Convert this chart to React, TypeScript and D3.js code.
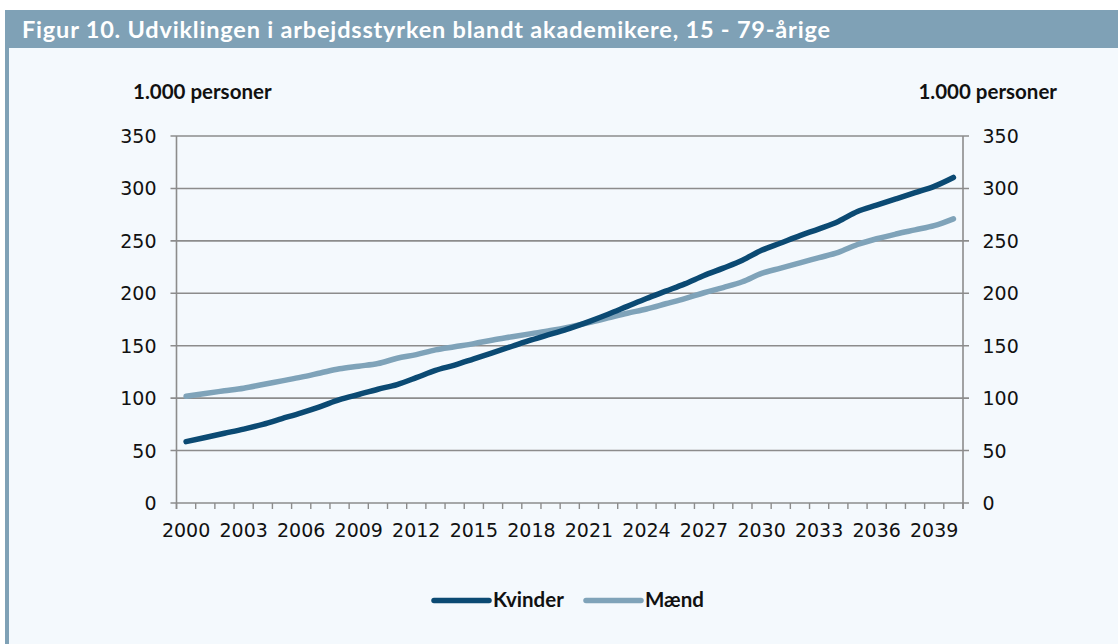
import React from "react";
import * as d3 from "d3";

const years: number[] = d3.range(2000, 2041);
const kvinder: number[] = [
  58.5, 62.5, 66.5, 70.5, 75, 80.5, 86, 92, 98.5, 103.5,
  108.5, 113, 119.5, 126.5, 131.5, 137.5, 143.5, 149.5, 155.5, 161,
  166.5, 173, 180, 187.5, 195, 202, 209, 217, 224, 231.5,
  241, 248, 255, 261.5, 268.5, 278, 284, 290, 296, 302, 310.5,
];
const maend: number[] = [
  101.8, 104.5, 107, 109.5, 113, 116.5, 120, 124, 128, 130.5,
  133, 138, 141.5, 146, 149, 152, 155.5, 158.5, 161.5, 164.5,
  168, 172, 176.5, 181, 185, 190, 195, 200.5, 205.5, 211,
  219, 224, 229, 234, 239, 246.5, 252, 256.5, 260.5, 264.5, 271,
];
const yTicks: number[] = [0, 50, 100, 150, 200, 250, 300, 350];
const seriesNames: string[] = ["Kvinder", "Mænd"];
const seriesColors: string[] = ["#0b4a73", "#7fa3b9"];
const title = "Figur 10. Udviklingen i arbejdsstyrken blandt akademikere, 15 - 79-årige";
const unitLabel = "1.000 personer";

const W = 1118;
const H = 644;
const left = 176.5;
const right = 963;
const top = 136;
const bottom = 503;
const boldFont = "Lato, 'Open Sans', sans-serif";
const tickFont = "'DejaVu Sans', Verdana, sans-serif";

export default function App() {
  const x = d3.scaleBand<number>().domain(years).range([left, right]).padding(0);
  const y = d3.scaleLinear().domain([0, 350]).range([bottom, top]);
  const line = d3
    .line<number>()
    .x((_, i) => (x(years[i]) as number) + x.bandwidth() / 2)
    .y((v) => y(v))
    .curve(d3.curveMonotoneX);
  const series = [kvinder, maend];
  const tickXs = years.map((yr) => x(yr) as number).concat([right]);

  return (
    <svg
      width={W}
      height={H}
      style={{ position: "absolute", left: 0, top: 0, display: "block" }}
      fontFamily={boldFont}
    >
      <rect x={0} y={0} width={W} height={H} fill="#ffffff" />
      <rect x={5} y={10} width={W - 5} height={H - 10} fill="#f4f9fd" />
      <rect x={5} y={10} width={4} height={H - 10} fill="#7fa1b6" />
      <rect x={5} y={10} width={W - 5} height={38} fill="#7fa1b6" />
      <text
        x={22}
        y={38}
        fill="#ffffff"
        fontSize={23.5}
        fontWeight={700}
        textLength={808}
        lengthAdjust="spacing"
      >
        {title}
      </text>

      <text x={133} y={99} fontSize={20.5} fontWeight={700} fill="#111">
        {unitLabel}
      </text>
      <text x={1057} y={99} fontSize={20.5} fontWeight={700} fill="#111" textAnchor="end">
        {unitLabel}
      </text>

      {yTicks.map((t) => (
        <g key={t}>
          <line
            x1={left - 6}
            x2={right + 6}
            y1={y(t)}
            y2={y(t)}
            stroke="#8c8c8c"
            strokeWidth={1.6}
          />
          <text
            x={156.5}
            y={y(t)}
            dy="0.37em"
            textAnchor="end"
            fontSize={19}
            fill="#111"
            fontFamily={tickFont}
          >
            {t}
          </text>
          <text
            x={982.5}
            y={y(t)}
            dy="0.37em"
            textAnchor="start"
            fontSize={19}
            fill="#111"
            fontFamily={tickFont}
          >
            {t}
          </text>
        </g>
      ))}

      <line x1={left} x2={left} y1={top} y2={bottom + 6} stroke="#8c8c8c" strokeWidth={1.6} />
      <line x1={right} x2={right} y1={top} y2={bottom + 6} stroke="#8c8c8c" strokeWidth={1.6} />
      {tickXs.map((tx, i) => (
        <line key={i} x1={tx} x2={tx} y1={bottom} y2={bottom + 6} stroke="#8c8c8c" strokeWidth={1.4} />
      ))}
      {years
        .filter((yr) => (yr - 2000) % 3 === 0)
        .map((yr) => (
          <text
            key={yr}
            x={(x(yr) as number) + x.bandwidth() / 2}
            y={537}
            textAnchor="middle"
            fontSize={19}
            fill="#111"
            fontFamily={tickFont}
          >
            {yr}
          </text>
        ))}

      {[1, 0].map((si) => (
        <path
          key={si}
          d={line(series[si]) || ""}
          fill="none"
          stroke={seriesColors[si]}
          strokeWidth={5.5}
          strokeLinecap="round"
          strokeLinejoin="round"
        />
      ))}

      {seriesNames.map((name, i) => {
        const lx = i === 0 ? 434 : 586;
        return (
          <g key={name}>
            <line
              x1={lx}
              x2={lx + 55}
              y1={600.5}
              y2={600.5}
              stroke={seriesColors[i]}
              strokeWidth={5.5}
              strokeLinecap="round"
            />
            <text x={lx + 59} y={607} fontSize={20.5} fontWeight={700} fill="#111">
              {name}
            </text>
          </g>
        );
      })}
    </svg>
  );
}
